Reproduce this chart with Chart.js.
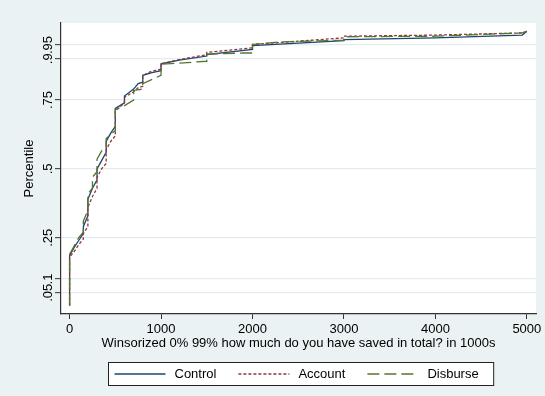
<!DOCTYPE html>
<html>
<head>
<meta charset="utf-8">
<script src="https://cdn.jsdelivr.net/npm/chart.js@4.4.1/dist/chart.umd.min.js"></script>
<style>
  html, body { margin: 0; padding: 0; background: #EAF2F3; }
  canvas { display: block; }
</style>
</head>
<body>
<canvas id="cdfChart" width="545" height="396"></canvas>
<script>
/* --------------- Savings values (1000s) and cumulative shares per group --------------- */
const controlSaved = [0, 0, 50, 100, 150, 150, 200, 200, 250, 300, 300, 350, 400, 400, 450, 500, 500, 600, 600, 700, 750, 800, 800, 900, 1000, 1000, 1200, 1500, 1500, 2000, 2000, 3000, 3000, 4000, 4950, 5000];
const controlPct   = [0.004, 0.185, 0.215, 0.24, 0.265, 0.29, 0.33, 0.39, 0.43, 0.46, 0.50, 0.53, 0.56, 0.60, 0.63, 0.655, 0.72, 0.74, 0.765, 0.79, 0.81, 0.815, 0.84, 0.85, 0.857, 0.882, 0.895, 0.91, 0.915, 0.934, 0.948, 0.966, 0.97, 0.976, 0.986, 1.0];

const accountSaved = [0, 0, 50, 100, 150, 150, 200, 200, 250, 300, 300, 350, 400, 400, 450, 500, 500, 600, 600, 700, 750, 800, 800, 900, 1000, 1000, 1200, 1500, 1500, 2000, 2000, 3000, 3000, 4000, 4950, 5000];
const accountPct   = [0.004, 0.18, 0.2, 0.225, 0.245, 0.265, 0.29, 0.36, 0.40, 0.43, 0.47, 0.50, 0.52, 0.57, 0.60, 0.62, 0.71, 0.74, 0.76, 0.78, 0.795, 0.80, 0.84, 0.855, 0.862, 0.882, 0.897, 0.915, 0.923, 0.94, 0.952, 0.976, 0.982, 0.986, 0.994, 1.0];

const disburseSaved = [0, 0, 50, 100, 150, 150, 200, 200, 250, 250, 300, 300, 350, 400, 400, 450, 500, 500, 600, 700, 700, 800, 800, 1000, 1000, 1500, 1500, 1900, 2000, 2000, 2300, 3000, 3000, 4000, 4950, 5000];
const disbursePct   = [0.003, 0.19, 0.22, 0.25, 0.27, 0.31, 0.35, 0.41, 0.43, 0.47, 0.49, 0.535, 0.565, 0.58, 0.61, 0.625, 0.64, 0.715, 0.73, 0.75, 0.785, 0.79, 0.81, 0.84, 0.88, 0.891, 0.917, 0.921, 0.921, 0.952, 0.961, 0.968, 0.98, 0.982, 0.994, 1.0];

/* --------------- Axis ticks --------------- */
const xTicks = [0, 1000, 2000, 3000, 4000, 5000];
const yTicks = [0.05, 0.1, 0.25, 0.5, 0.75, 0.9, 0.95];

const FONT = '"Liberation Sans", Helvetica, Arial, sans-serif';
const TEXT_SIZE = 13;

const toPoints = (xs, ys) => xs.map((x, i) => ({ x: x, y: ys[i] }));

/* --------------- Background: light graph region, white plot region --------------- */
const regionFill = {
  id: 'regionFill',
  beforeDraw(chart) {
    const { ctx, chartArea: a } = chart;
    ctx.save();
    ctx.fillStyle = '#EAF2F3';
    ctx.fillRect(0, 0, chart.width, chart.height);
    ctx.fillStyle = '#ffffff';
    ctx.fillRect(a.left, a.top, a.right - a.left, a.bottom - a.top);
    ctx.restore();
  }
};

/* --------------- Boxed legend under the x title --------------- */
const legendBox = {
  id: 'legendBox',
  afterDraw(chart) {
    const { ctx, chartArea: a } = chart;
    const sets = chart.data.datasets;
    const sample = 51, gapText = 9, gapItem = 22, padL = 6, padR = 15;
    const top = 362.5, h = 23;
    ctx.save();
    ctx.font = TEXT_SIZE + 'px ' + FONT;
    const widths = sets.map(d => ctx.measureText(d.label).width);
    let total = padL + padR + gapItem * (sets.length - 1);
    widths.forEach(w => { total += sample + gapText + w; });
    const left = Math.round((a.left + a.right) / 2 + 2 - total / 2) + 0.5;
    ctx.fillStyle = '#ffffff';
    ctx.fillRect(left, top, total, h);
    ctx.strokeStyle = '#222222';
    ctx.lineWidth = 1;
    ctx.strokeRect(left, top, total, h);
    const cy = top + h / 2;
    let x = left + padL;
    sets.forEach((d, i) => {
      ctx.beginPath();
      ctx.setLineDash(d.borderDash || []);
      ctx.strokeStyle = d.borderColor;
      ctx.lineWidth = d.borderWidth;
      ctx.moveTo(x, cy);
      ctx.lineTo(x + sample, cy);
      ctx.stroke();
      ctx.setLineDash([]);
      ctx.fillStyle = '#000000';
      ctx.textBaseline = 'middle';
      ctx.textAlign = 'left';
      ctx.fillText(d.label, x + sample + gapText, cy);
      x += sample + gapText + widths[i] + gapItem;
    });
    ctx.restore();
  }
};

const cdfChart = new Chart(document.getElementById('cdfChart'), {
  type: 'line',
  plugins: [regionFill, legendBox],
  data: {
    datasets: [
      {
        label: 'Control',
        data: toPoints(controlSaved, controlPct),
        borderColor: '#1A476F',
        borderWidth: 1.3,
        order: 3
      },
      {
        label: 'Account',
        data: toPoints(accountSaved, accountPct),
        borderColor: '#90353B',
        borderWidth: 1.3,
        borderDash: [3, 2],
        order: 2
      },
      {
        label: 'Disburse',
        data: toPoints(disburseSaved, disbursePct),
        borderColor: '#55752F',
        borderWidth: 1.3,
        borderDash: [12, 5],
        order: 1
      }
    ]
  },
  options: {
    responsive: false,
    animation: false,
    layout: { padding: { top: 23, right: 9, bottom: 0, left: 0 } },
    elements: {
      point: { radius: 0 },
      line: { tension: 0, fill: false }
    },
    plugins: {
      legend: { display: false },
      tooltip: { enabled: false }
    },
    scales: {
      x: {
        type: 'linear',
        min: -94,
        max: 5100,
        afterFit(scale) { scale.height = 82; },
        afterBuildTicks(scale) { scale.ticks = xTicks.map(v => ({ value: v })); },
        border: { display: true, color: '#333333', width: 1.2 },
        grid: { drawOnChartArea: false, drawTicks: true, tickLength: 5, tickColor: '#333333', tickWidth: 1 },
        ticks: {
          color: '#000000',
          padding: 3,
          maxRotation: 0,
          autoSkip: false,
          font: { family: FONT, size: TEXT_SIZE },
          callback: v => String(v)
        },
        title: {
          display: true,
          text: 'Winsorized 0% 99% how much do you have saved in total? in 1000s',
          color: '#000000',
          font: { family: FONT, size: TEXT_SIZE },
          padding: { top: 0, bottom: 45 }
        }
      },
      y: {
        type: 'linear',
        min: -0.027,
        max: 1.03,
        afterFit(scale) { scale.width = 61; },
        afterBuildTicks(scale) { scale.ticks = yTicks.map(v => ({ value: v })); },
        border: { display: true, color: '#333333', width: 1.2 },
        grid: { color: '#E2ECEE', lineWidth: 1.3, drawTicks: true, tickLength: 6, tickColor: '#333333', tickWidth: 1 },
        ticks: {
          color: '#000000',
          padding: -2,
          minRotation: 90,
          maxRotation: 90,
          crossAlign: 'center',
          autoSkip: false,
          font: { family: FONT, size: TEXT_SIZE },
          callback: v => String(v).replace(/^0\./, '.')
        },
        title: {
          display: true,
          text: 'Percentile',
          color: '#000000',
          font: { family: FONT, size: TEXT_SIZE },
          padding: { top: 22, bottom: 0 }
        }
      }
    }
  }
});
</script>
</body>
</html>
